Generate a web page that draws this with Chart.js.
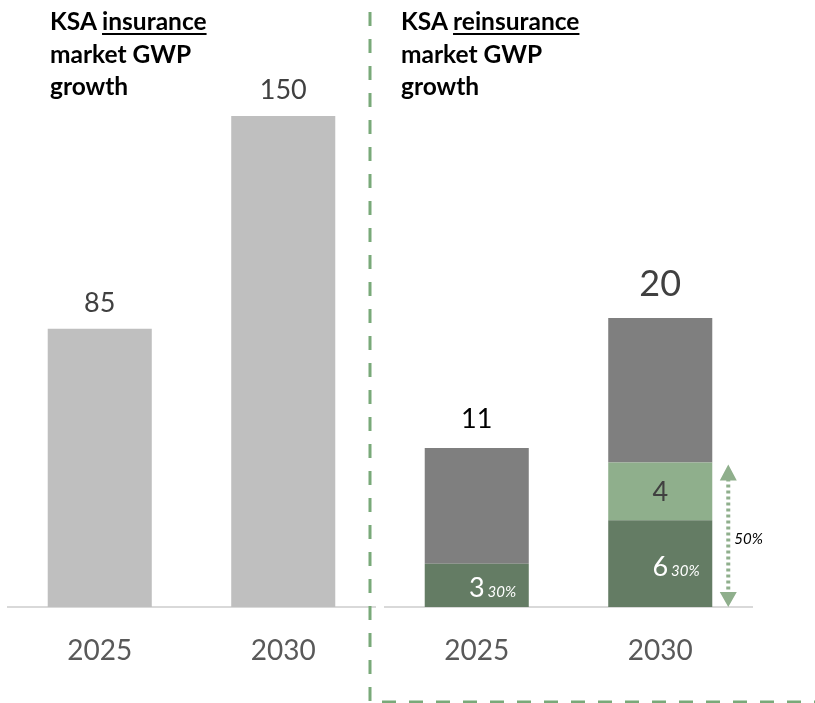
<!DOCTYPE html>
<html>
<head>
<meta charset="utf-8">
<title>KSA insurance and reinsurance market GWP growth</title>
<script src="https://cdn.jsdelivr.net/npm/chart.js@4"></script>
<style>
  html, body { margin: 0; padding: 0; background: #fff; }
  body { width: 815px; height: 703px; position: relative; overflow: hidden; font-family: Lato, 'Liberation Sans', sans-serif; }
  .layer { position: absolute; left: 0; top: 0; width: 815px; height: 703px; }
  .title { position: absolute; top: 5px; font-weight: 700; font-size: 24.5px; line-height: 32.5px; color: #000; white-space: nowrap; }
  .title u { text-decoration-thickness: 2px; text-underline-offset: 3px; }
</style>
</head>
<body>
<div class="layer"><canvas id="insChart"></canvas></div>
<div class="layer"><canvas id="reChart"></canvas></div>
<div class="title" style="left:50px">KSA <u>insurance</u><br>market GWP<br>growth</div>
<div class="title" style="left:401px">KSA <u>reinsurance</u><br>market GWP<br>growth</div>
<script>
// Data
const years = ['2025', '2030'];
const insuranceGwp = [85, 150];
const reLocal = [3, 6];     // dark green part
const reUplift = [0, 4];    // light green part
const reRest = [8, 10];     // grey part
const reTotals = [11, 20];
const localShare = ['30%', '30%'];
const combinedShare = '50%';

// Colours
const LIGHT_GREY = '#bfbfbf';
const DARK_GREY = '#7f7f7f';
const DARK_GREEN = '#647c64';
const LIGHT_GREEN = '#8faf8c';
const DIVIDER = '#79a979';

Chart.defaults.font.family = 'Lato';
Chart.defaults.animation = false;

function xAxis () { // shared category axis
    return {
        grid: { display: false, drawTicks: false },
        border: { display: true, color: '#d9d9d9', width: 2 },
        ticks: { color: '#595959', font: { size: 28 }, padding: 27 },
        afterFit: (s) => { s.height = 96; }
    };
}

// Left chart labels
const insLabels = {
    id: 'insLabels',
    afterDatasetsDraw (chart) {
        const { ctx, scales: { x, y } } = chart;
        ctx.save();
        ctx.font = '27px Lato';
        ctx.fillStyle = '#404040';
        ctx.textAlign = 'center';
        ctx.textBaseline = 'alphabetic';
        insuranceGwp.forEach((v, i) => {
            ctx.fillText(String(v), x.getPixelForValue(i), y.getPixelForValue(v) - 17);
        });
        ctx.restore();
    }
};

new Chart(document.getElementById('insChart'), {
    type: 'bar',
    data: {
        labels: years,
        datasets: [{
            data: insuranceGwp,
            backgroundColor: LIGHT_GREY,
            barPercentage: 0.567,
            categoryPercentage: 1
        }]
    },
    options: {
        responsive: true,
        maintainAspectRatio: false,
        layout: { padding: { left: 8, right: 440, top: 116, bottom: 0 } },
        plugins: { legend: { display: false }, tooltip: { enabled: false } },
        scales: {
            x: xAxis(),
            y: { display: false, min: 0, max: 150 }
        }
    },
    plugins: [insLabels]
});

// Right chart labels, arrow and divider
const reLabels = {
    id: 'reLabels',
    afterDatasetsDraw (chart) {
        const { ctx, scales: { x, y } } = chart;
        ctx.save();
        ctx.textAlign = 'center';
        ctx.textBaseline = 'alphabetic';

        // Totals
        reTotals.forEach((v, i) => {
            ctx.font = (i === 1 ? '36px' : '27px') + ' Lato';
            ctx.fillStyle = i === 1 ? '#404040' : '#000';
            ctx.fillText(String(v), x.getPixelForValue(i), y.getPixelForValue(v) - (i === 1 ? 22 : 20));
        });

        // Local share values with %
        reLocal.forEach((v, i) => {
            const cx = x.getPixelForValue(i);
            const base = (y.getPixelForValue(0) + y.getPixelForValue(v)) / 2 + 12;
            ctx.font = '27px Lato';
            ctx.fillStyle = '#fff';
            ctx.textAlign = 'center';
            ctx.fillText(String(v), cx, base);
            const w = ctx.measureText(String(v)).width;
            ctx.font = 'italic 15px Lato';
            ctx.textAlign = 'left';
            ctx.fillText(localShare[i], cx + w / 2 + 3, base);
        });

        // Uplift value
        reUplift.forEach((v, i) => {
            if (!v) return;
            const y0 = y.getPixelForValue(reLocal[i]);
            const y1 = y.getPixelForValue(reLocal[i] + v);
            ctx.font = '27px Lato';
            ctx.fillStyle = '#404040';
            ctx.textAlign = 'center';
            ctx.fillText(String(v), x.getPixelForValue(i), (y0 + y1) / 2 + 10);
        });

        // Double arrow beside 2030 green stack
        const bar = chart.getDatasetMeta(0).data[1];
        const ax = bar.x + bar.width / 2 + 16;
        const yTop = y.getPixelForValue(reLocal[1] + reUplift[1]) + 2;
        const yBot = y.getPixelForValue(0);
        ctx.strokeStyle = LIGHT_GREEN;
        ctx.fillStyle = LIGHT_GREEN;
        ctx.lineWidth = 4;
        ctx.setLineDash([3, 3]);
        ctx.beginPath();
        ctx.moveTo(ax, yTop + 14);
        ctx.lineTo(ax, yBot - 14);
        ctx.stroke();
        ctx.setLineDash([]);
        ctx.beginPath();
        ctx.moveTo(ax, yTop); ctx.lineTo(ax - 8.5, yTop + 16); ctx.lineTo(ax + 8.5, yTop + 16); ctx.closePath();
        ctx.moveTo(ax, yBot); ctx.lineTo(ax - 8.5, yBot - 15); ctx.lineTo(ax + 8.5, yBot - 15); ctx.closePath();
        ctx.fill();

        ctx.font = 'italic 15px Lato';
        ctx.fillStyle = '#000';
        ctx.textAlign = 'left';
        ctx.textBaseline = 'middle';
        ctx.fillText(combinedShare, ax + 6, (yTop + yBot) / 2 + 3);
        ctx.restore();
    },
    afterDraw (chart) {
        const ctx = chart.ctx;
        ctx.save();
        ctx.strokeStyle = DIVIDER;
        ctx.lineWidth = 3;
        ctx.setLineDash([14, 13]);
        ctx.beginPath();
        ctx.moveTo(370, 12);
        ctx.lineTo(370, 702);
        ctx.lineTo(815, 702);
        ctx.stroke();
        ctx.restore();
    }
};

new Chart(document.getElementById('reChart'), {
    type: 'bar',
    data: {
        labels: years,
        datasets: [
            { data: reLocal, backgroundColor: DARK_GREEN },
            { data: reUplift, backgroundColor: LIGHT_GREEN },
            { data: reRest, backgroundColor: DARK_GREY }
        ].map(d => Object.assign(d, { barPercentage: 0.567, categoryPercentage: 1 }))
    },
    options: {
        responsive: true,
        maintainAspectRatio: false,
        layout: { padding: { left: 385, right: 63, top: 318, bottom: 0 } },
        plugins: { legend: { display: false }, tooltip: { enabled: false } },
        scales: {
            x: Object.assign(xAxis(), { stacked: true }),
            y: { display: false, stacked: true, min: 0, max: 20 }
        }
    },
    plugins: [reLabels]
});
</script>
</body>
</html>
